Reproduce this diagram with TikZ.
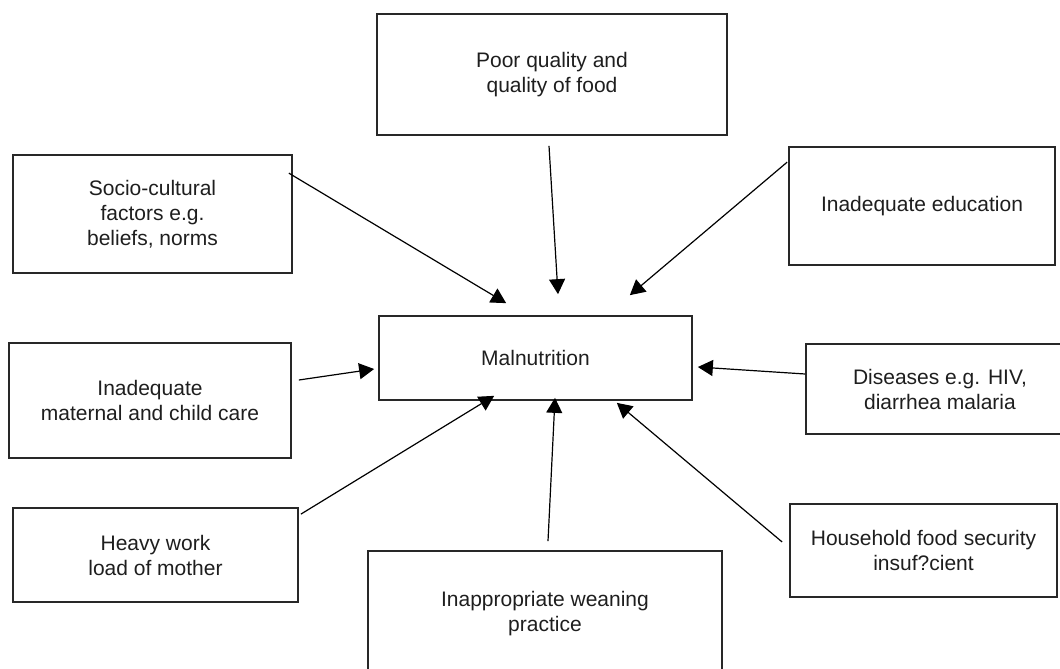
\documentclass[tikz,border=0pt]{standalone}
\usepackage{fontspec}
\setmainfont{Liberation Sans}
\usetikzlibrary{calc, arrows.meta}
\definecolor{boxline}{RGB}{40,40,40}
\definecolor{inktext}{RGB}{30,30,30}

\begin{document}
\begin{tikzpicture}[x=0.5pt, y=-0.5pt, font=\fontsize{10.5}{12.5}\selectfont]
      % Styles
      \tikzset{cause/.style={draw=boxline, line width=0.85pt, rectangle, align=center, text=inktext, inner sep=0pt}}
      \tikzset{effect/.style={cause}}
      \tikzset{link/.style={draw=black, line width=0.6pt, -{Triangle[length=7.5pt, width=8pt]}}}

      \useasboundingbox (0,0) rectangle (1060,669);

      % --- Central effect ---
      \node[effect, minimum width=156.5pt, minimum height=42pt] (maln) at (535.5, 358) {Malnutrition};

      % --- Causes round it ---
      \node[cause, minimum width=175pt, minimum height=60.5pt] (food) at (552, 74.5) {Poor quality and\\quality of food};
      \node[cause, minimum width=139.5pt, minimum height=59pt] (socio) at (152.5, 214) {Socio-cultural\\factors e.g.\\beliefs, norms};
      \node[cause, minimum width=133pt, minimum height=59pt] (educ) at (922, 206) {Inadequate education};
      \node[cause, minimum width=141pt, minimum height=57.5pt] (care) at (150, 400.5) {Inadequate\\maternal and child care};
      \node[cause, minimum width=134pt, minimum height=45pt] (disease) at (940, 389) {Diseases e.g. HIV,\\diarrhea malaria};
      \node[cause, minimum width=142.5pt, minimum height=47pt] (work) at (155.5, 555) {Heavy work\\load of mother};
      \node[cause, minimum width=133.5pt, minimum height=46.5pt] (house) at (923.5, 550.5) {Household food security\\insuf?cient};
      \node[cause, minimum width=177pt, minimum height=62.5pt] (wean) at (545, 613.5) {Inappropriate weaning\\practice};

      % --- Arrows into Malnutrition ---
      \draw[link] ($(food.south)+(-3,10)$) -- ($(maln.north)+(22.5,-21)$);
      \draw[link] ($(socio.north east)+(-4,19)$) -- ($(maln.north west)+(128,-12)$);
      \draw[link] ($(educ.north west)+(-1,16)$) -- ($(maln.north east)+(-63,-20)$);
      \draw[link] ($(care.east)+(7,-20.5)$) -- ($(maln.west)+(-4,11)$);
      \draw[link] ($(disease.west)+(0,-15)$) -- ($(maln.east)+(5,9)$);
      \draw[link] ($(work.north east)+(2,7)$) -- ($(maln.south west)+(116,-5)$);
      \draw[link] ($(wean.north)+(3,-9)$) -- ($(maln.south)+(19.5,-3)$);
      \draw[link] ($(house.west)+(-7,-8.5)$) -- ($(maln.south east)+(-76,2)$);

    \end{tikzpicture}
\end{document}
